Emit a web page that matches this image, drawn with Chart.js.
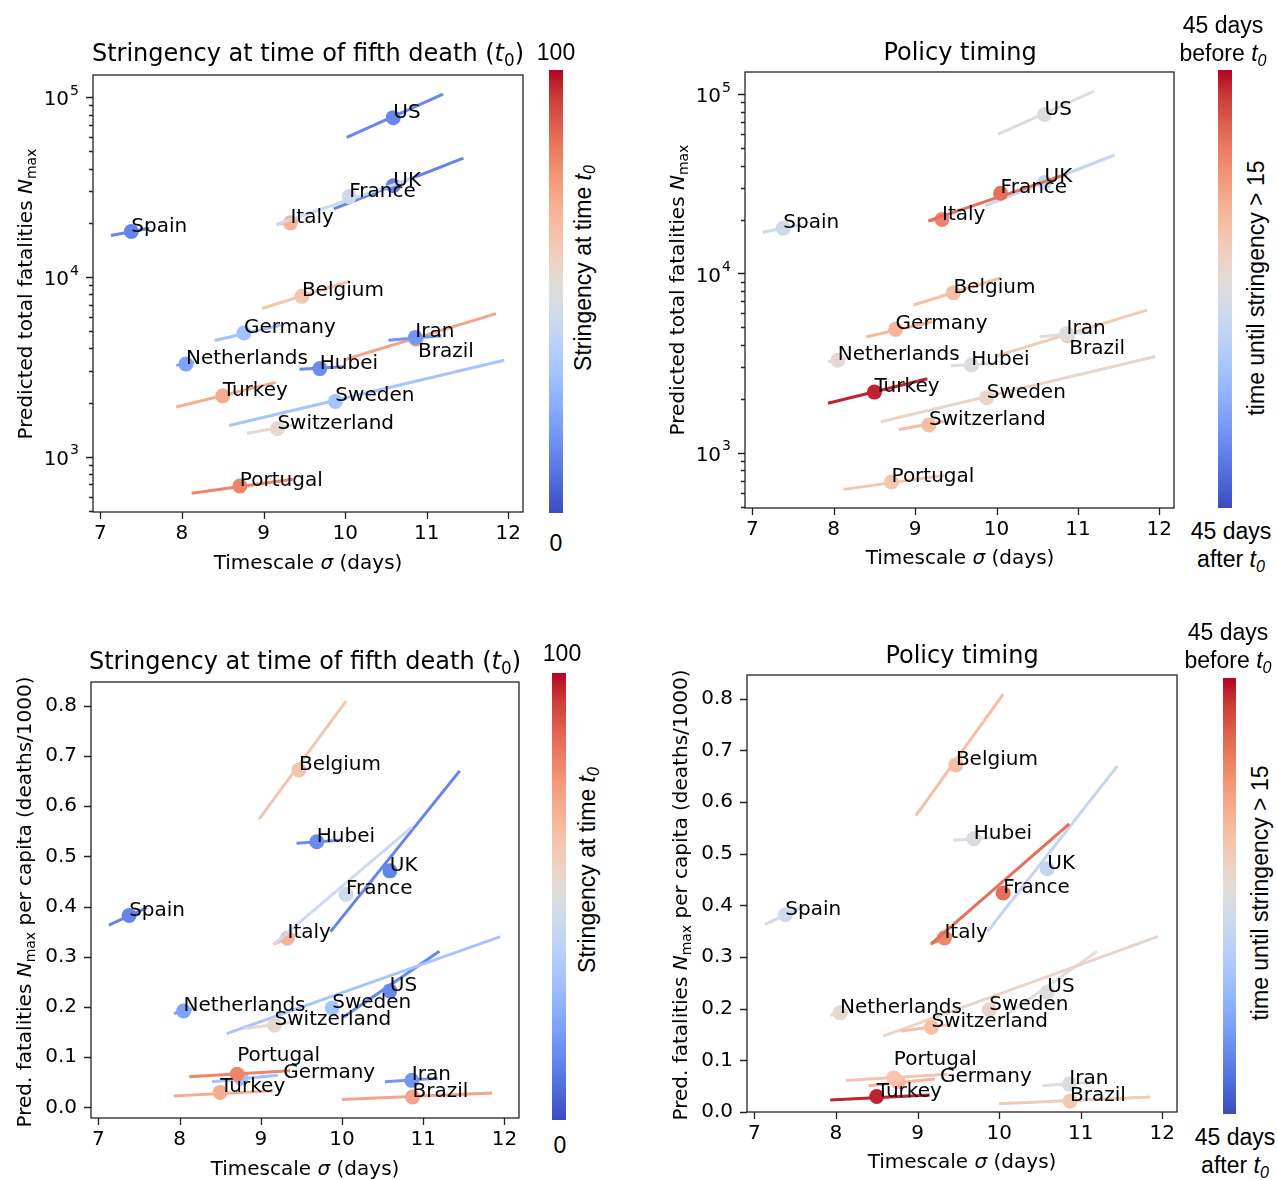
<!DOCTYPE html>
<html>
<head>
<meta charset="utf-8">
<script src="https://cdn.jsdelivr.net/npm/chart.js@4.4.1/dist/chart.umd.min.js"></script>
<style>
  body { margin: 0; background: #fff; }
  #fig { position: relative; width: 1277px; height: 1180px; overflow: hidden; font-family: "DejaVu Sans", sans-serif; color: #000; }
  #fig canvas { position: absolute; }
  .txt { position: absolute; transform: translate(-50%, -50%); white-space: nowrap; line-height: 1; }
  .rot { transform: translate(-50%, -50%) rotate(-90deg); }
  .ttl { font-size: 24px; }
  .lbl { font-size: 20px; }
  .cb { font-family: "Liberation Sans", Arial, sans-serif; font-size: 23px; }
  .two { text-align: center; line-height: 28px; }
  sub { font-size: 70%; vertical-align: -0.3em; line-height: 0; }
  .bar { position: absolute; }
</style>
</head>
<body>
<div id="fig">
  <canvas id="c1"></canvas>
  <canvas id="c2"></canvas>
  <canvas id="c3"></canvas>
  <canvas id="c4"></canvas>

  <!-- titulos -->
  <div class="txt ttl" style="left:308px;top:53px">Stringency at time of fifth death (<i>t</i><sub>0</sub>)</div>
  <div class="txt ttl" style="left:960px;top:52px">Policy timing</div>
  <div class="txt ttl" style="left:305px;top:661px">Stringency at time of fifth death (<i>t</i><sub>0</sub>)</div>
  <div class="txt ttl" style="left:962px;top:655px">Policy timing</div>

  <!-- ejes x -->
  <div class="txt lbl" style="left:308px;top:562px">Timescale <i>σ</i> (days)</div>
  <div class="txt lbl" style="left:960px;top:557px">Timescale <i>σ</i> (days)</div>
  <div class="txt lbl" style="left:305px;top:1168px">Timescale <i>σ</i> (days)</div>
  <div class="txt lbl" style="left:962px;top:1161px">Timescale <i>σ</i> (days)</div>

  <!-- ejes y -->
  <div class="txt lbl rot" style="left:25px;top:294px">Predicted total fatalities <i>N</i><sub>max</sub></div>
  <div class="txt lbl rot" style="left:677px;top:290px">Predicted total fatalities <i>N</i><sub>max</sub></div>
  <div class="txt lbl rot" style="left:24px;top:902px">Pred. fatalities <i>N</i><sub>max</sub> per capita (deaths/1000)</div>
  <div class="txt lbl rot" style="left:680px;top:895px">Pred. fatalities <i>N</i><sub>max</sub> per capita (deaths/1000)</div>

  <!-- barras de color -->
  <div class="bar" id="cb1" style="left:549px;top:70px;width:14px;height:443px"></div>
  <div class="txt cb" style="left:556px;top:52px">100</div>
  <div class="txt cb" style="left:556px;top:543px">0</div>
  <div class="txt cb rot" style="left:583px;top:268px">Stringency at time <i>t<sub>0</sub></i></div>

  <div class="bar" id="cb2" style="left:1218px;top:70px;width:14px;height:438px"></div>
  <div class="txt cb two" style="left:1223px;top:39px">45 days<br>before <i>t<sub>0</sub></i></div>
  <div class="txt cb two" style="left:1231px;top:545px">45 days<br>after <i>t<sub>0</sub></i></div>
  <div class="txt cb rot" style="left:1256px;top:288px">time until stringency &gt; 15</div>

  <div class="bar" id="cb3" style="left:552px;top:673px;width:14px;height:447px"></div>
  <div class="txt cb" style="left:562px;top:653px">100</div>
  <div class="txt cb" style="left:560px;top:1145px">0</div>
  <div class="txt cb rot" style="left:587px;top:870px">Stringency at time <i>t<sub>0</sub></i></div>

  <div class="bar" id="cb4" style="left:1223px;top:678px;width:13px;height:436px"></div>
  <div class="txt cb two" style="left:1228px;top:646px">45 days<br>before <i>t<sub>0</sub></i></div>
  <div class="txt cb two" style="left:1235px;top:1151px">45 days<br>after <i>t<sub>0</sub></i></div>
  <div class="txt cb rot" style="left:1260px;top:893px">time until stringency &gt; 15</div>
</div>

<script>
// Datos por país (orden de dibujo)
const countries   = ['Spain', 'Italy', 'Hubei', 'UK', 'France', 'Germany', 'Belgium', 'Netherlands', 'Brazil', 'Iran', 'US', 'Sweden', 'Switzerland', 'Turkey', 'Portugal'];
const sigma       = [7.38, 9.33, 9.69, 10.59, 10.05, 8.76, 9.47, 8.05, 10.87, 10.86, 10.59, 9.88, 9.17, 8.50, 8.71];
const sigmaLo     = [7.13, 9.16, 9.44, 9.86, 9.17, 8.40, 8.98, 7.93, 10.00, 10.53, 10.02, 8.58, 8.80, 7.93, 8.12];
const sigmaHi     = [7.60, 9.42, 9.98, 11.45, 10.86, 9.21, 10.05, 8.15, 11.85, 11.18, 11.20, 11.95, 9.37, 9.15, 9.36];
const nMax        = [17900, 20000, 3090, 32200, 28000, 4880, 7800, 3280, 4500, 4610, 77000, 2030, 1430, 2180, 687];
const nMaxLo      = [17000, 19600, 3060, 23900, 19700, 4430, 6670, 3220, 3470, 4440, 59800, 1490, 1350, 1890, 625];
const nMaxHi      = [18700, 20600, 3160, 45800, 35800, 5380, 9460, 3350, 6250, 4710, 104000, 3440, 1500, 2590, 748];
const perCapita   = [0.382, 0.337, 0.529, 0.471, 0.424, 0.058, 0.672, 0.192, 0.021, 0.054, 0.232, 0.198, 0.164, 0.030, 0.066];
const perCapitaLo = [0.363, 0.325, 0.526, 0.350, 0.326, 0.051, 0.574, 0.187, 0.016, 0.051, 0.180, 0.147, 0.157, 0.023, 0.061];
const perCapitaHi = [0.398, 0.343, 0.532, 0.670, 0.558, 0.064, 0.809, 0.196, 0.029, 0.058, 0.311, 0.340, 0.169, 0.033, 0.073];
const stringency  = [13, 68, 15, 13, 44, 31, 62, 21, 72, 18, 14, 32, 53, 70, 80];   // 0..100
const daysBefore  = [-5, 27, -1, -8, 31, 16, 13, 3, 9, -1, 0, 5, 13, 42, 11];      // -45..45

// Ticks
const sigmaTicks     = [7, 8, 9, 10, 11, 12];
const logMajorTicks  = [1000, 10000, 100000];
const logExponents   = ['3', '4', '5'];
const perCapitaTicks = [0, 0.1, 0.2, 0.3, 0.4, 0.5, 0.6, 0.7, 0.8];
const perCapitaLabels = ['0.0', '0.1', '0.2', '0.3', '0.4', '0.5', '0.6', '0.7', '0.8'];

// Mapa de color coolwarm
const coolwarm = [[59,76,192],[77,104,215],[98,130,234],[119,154,247],[141,176,254],[163,194,255],[184,208,249],[204,217,238],
  [221,221,221],[236,211,197],[245,196,172],[247,177,148],[244,154,123],[236,127,99],[222,96,77],[203,62,56],[180,4,38]];

function cmap(t) {
    t = Math.max(0, Math.min(1, t)) * (coolwarm.length - 1);
    const i = Math.min(Math.floor(t), coolwarm.length - 2);
    const f = t - i;
    const c = coolwarm[i].map((v, k) => Math.round(v + (coolwarm[i + 1][k] - v) * f));
    return `rgb(${c[0]},${c[1]},${c[2]})`;
}

// Barras de color
const gradient = 'linear-gradient(to top, ' + coolwarm.map((c, i) => `rgb(${c.join(',')}) ${(i / (coolwarm.length - 1) * 100).toFixed(2)}%`).join(', ') + ')';
['cb1', 'cb2', 'cb3', 'cb4'].forEach(id => document.getElementById(id).style.background = gradient);

Chart.defaults.font.family = '"DejaVu Sans", sans-serif';
Chart.defaults.font.size = 20;
Chart.defaults.color = '#000';

// Etiquetas de países, marco y ticks estilo matplotlib
const countryLabels = {
    id: 'countryLabels',
    afterDatasetsDraw(chart, args, opts) {
        const ctx = chart.ctx;
        const xs = chart.scales.x, ys = chart.scales.y;
        ctx.save();
        ctx.font = '20px "DejaVu Sans"';
        ctx.fillStyle = '#000';
        ctx.textAlign = 'left';
        ctx.textBaseline = 'alphabetic';
        countries.forEach((name, i) => {
            const off = opts.offsets[name] || [0, 0];
            const px = xs.getPixelForValue(sigma[i]) + off[0];
            const py = ys.getPixelForValue(opts.values[i]) + off[1];
            ctx.fillText(name, px, py);
        });
        ctx.restore();
    },
    afterDraw(chart, args, opts) {
        const ctx = chart.ctx, a = chart.chartArea;
        const xs = chart.scales.x, ys = chart.scales.y;
        ctx.save();
        ctx.strokeStyle = '#222';
        ctx.lineWidth = 1.3;
        ctx.strokeRect(a.left, a.top, a.right - a.left, a.bottom - a.top);
        ctx.beginPath();
        xs.ticks.forEach(t => {
            const px = Math.round(xs.getPixelForValue(t.value)) + 0.5;
            ctx.moveTo(px, a.bottom);
            ctx.lineTo(px, a.bottom + 7);
        });
        ys.ticks.forEach(t => {
            const py = Math.round(ys.getPixelForValue(t.value)) + 0.5;
            const len = t.minor ? 4 : 7;
            ctx.moveTo(a.left, py);
            ctx.lineTo(a.left - len, py);
        });
        ctx.stroke();

        // potencias de diez con exponente en superíndice
        if (opts.log) {
            ctx.fillStyle = '#000';
            ctx.textAlign = 'right';
            ctx.textBaseline = 'middle';
            logMajorTicks.forEach((v, i) => {
                const py = ys.getPixelForValue(v);
                const right = a.left - 14;
                ctx.font = '14px "DejaVu Sans"';
                const w = ctx.measureText(logExponents[i]).width;
                ctx.fillText(logExponents[i], right, py - 6);
                ctx.font = '20px "DejaVu Sans"';
                ctx.fillText('10', right - w - 1, py + 3);
            });
        }
        ctx.restore();
    }
};

function noPadding(s) {
    s.paddingTop = 0;
    s.paddingBottom = 0;
    s.paddingLeft = 0;
    s.paddingRight = 0;
}

function makePanel(id, rect, yValues, yLo, yHi, colorValues, yScale, offsets, isLog) {
    const canvas = document.getElementById(id);
    const padL = 90, padT = 12, padR = 12, padB = 45;
    canvas.width = rect.r - rect.l + padL + padR;
    canvas.height = rect.b - rect.t + padT + padB;
    canvas.style.left = (rect.l - padL) + 'px';
    canvas.style.top = (rect.t - padT) + 'px';

    const n = countries.length;
    const datasets = [];
    countries.forEach((name, i) => {
        const color = colorValues[i];
        datasets.push({
            label: name + ' fit',
            data: [{ x: sigmaLo[i], y: yLo[i] }, { x: sigmaHi[i], y: yHi[i] }],
            showLine: true,
            borderColor: color,
            borderWidth: 3,
            pointRadius: 0,
            order: (n - i) * 2 + 1
        });
        datasets.push({
            label: name,
            data: [{ x: sigma[i], y: yValues[i] }],
            backgroundColor: color,
            borderWidth: 0,
            pointRadius: 7.5,
            order: (n - i) * 2
        });
    });

    new Chart(canvas, {
        type: 'scatter',
        data: { datasets: datasets },
        options: {
            responsive: false,
            animation: false,
            devicePixelRatio: 1,
            events: [],
            layout: { padding: { left: 0, top: padT, right: padR, bottom: 0 } },
            plugins: {
                legend: { display: false },
                tooltip: { enabled: false },
                countryLabels: { values: yValues, offsets: offsets, log: isLog }
            },
            scales: {
                x: {
                    type: 'linear',
                    min: 6.91,
                    max: 12.18,
                    afterBuildTicks: s => { s.ticks = sigmaTicks.map(v => ({ value: v })); },
                    afterFit: s => { s.height = padB; noPadding(s); },
                    ticks: { padding: 10, autoSkip: false, maxRotation: 0, callback: v => String(v) },
                    grid: { display: false, drawTicks: false },
                    border: { display: false }
                },
                y: Object.assign({
                    afterFit: s => { s.width = padL; noPadding(s); },
                    grid: { display: false, drawTicks: false },
                    border: { display: false }
                }, yScale)
            }
        },
        plugins: [countryLabels]
    });
}

// Escala logarítmica (fila superior)
function logScale() {
    const ticks = [];
    [100, 1000, 10000, 100000].forEach(d => {
        for (let k = 1; k <= 9; k++) {
            const v = k * d;
            if (v >= 492 && v <= 133000) ticks.push({ value: v, minor: k !== 1 });
        }
    });
    return {
        type: 'logarithmic',
        min: 492,
        max: 133000,
        afterBuildTicks: s => { s.ticks = ticks.map(t => ({ value: t.value, minor: t.minor })); },
        ticks: { padding: 14, autoSkip: false, callback: () => '' }
    };
}

// Escala lineal (fila inferior)
function linScale(min, max) {
    return {
        type: 'linear',
        min: min,
        max: max,
        afterBuildTicks: s => { s.ticks = perCapitaTicks.map(v => ({ value: v })); },
        ticks: {
            padding: 14,
            autoSkip: false,
            callback: v => {
                const i = perCapitaTicks.findIndex(t => Math.abs(t - v) < 1e-9);
                return i >= 0 ? perCapitaLabels[i] : '';
            }
        }
    };
}

const stringencyColors = stringency.map(s => cmap(s / 100));
const timingColors = daysBefore.map(d => cmap((d + 45) / 90));
const topOffsets = { Brazil: [2, 18] };
const bottomOffsets = { Portugal: [0, -13], Germany: [42, 0] };

makePanel('c1', { l: 93, t: 75, r: 523, b: 512 }, nMax, nMaxLo, nMaxHi, stringencyColors, logScale(), topOffsets, true);
makePanel('c2', { l: 745, t: 72, r: 1174, b: 508 }, nMax, nMaxLo, nMaxHi, timingColors, logScale(), topOffsets, true);
makePanel('c3', { l: 91, t: 682, r: 519, b: 1118 }, perCapita, perCapitaLo, perCapitaHi, stringencyColors, linScale(-0.021, 0.847), bottomOffsets, false);
makePanel('c4', { l: 747, t: 675, r: 1177, b: 1112 }, perCapita, perCapitaLo, perCapitaHi, timingColors, linScale(0, 0.846), bottomOffsets, false);
</script>
</body>
</html>
